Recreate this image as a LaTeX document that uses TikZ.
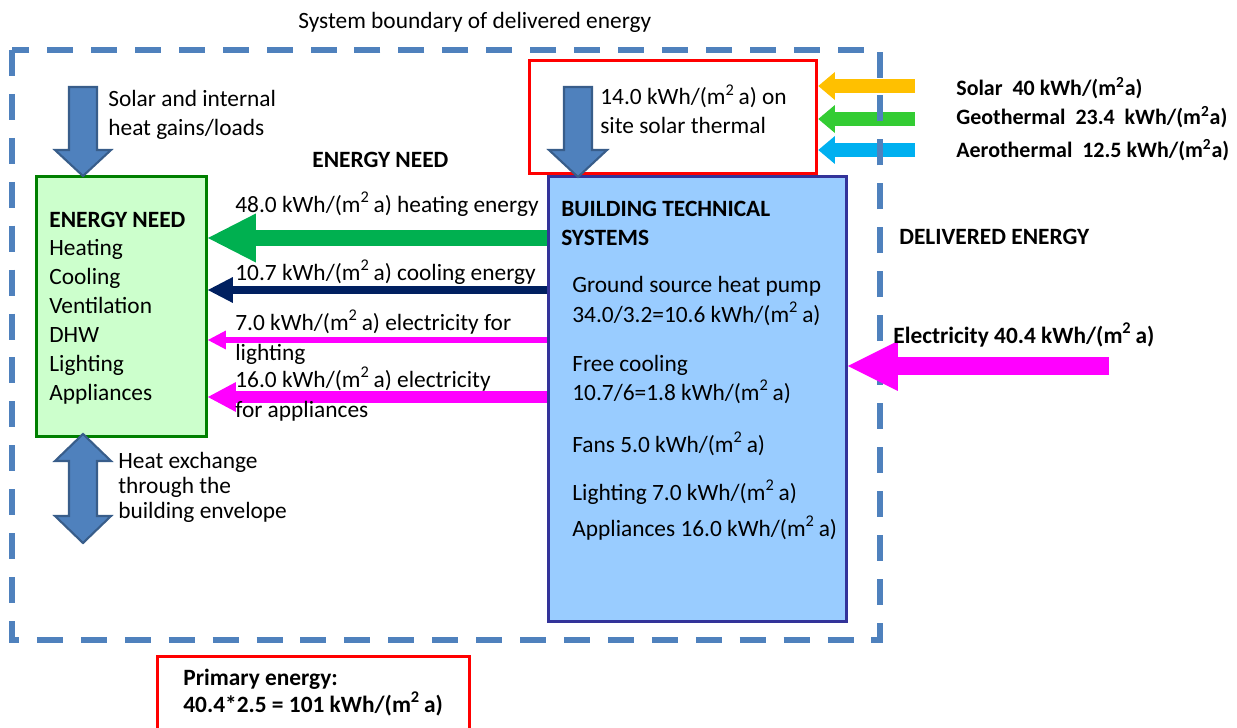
\documentclass[tikz,border=0pt]{standalone}
\usepackage{fontspec}
\setmainfont{Carlito}
\usepackage{xcolor}
\usepackage{tikz}
\usetikzlibrary{arrows.meta}

\definecolor{bndblue}{HTML}{4F81BD}
\definecolor{gainedge}{HTML}{385D8A}
\definecolor{needfill}{HTML}{CCFFCC}
\definecolor{neededge}{HTML}{008000}
\definecolor{btsfill}{HTML}{99CCFF}
\definecolor{btsedge}{HTML}{333399}
\definecolor{heatgreen}{HTML}{00B050}
\definecolor{coolnavy}{HTML}{002060}
\definecolor{elecpink}{HTML}{FF00FF}
\definecolor{solaryellow}{HTML}{FFC000}
\definecolor{geogreen}{HTML}{33CC33}
\definecolor{aerocyan}{HTML}{00B0F0}

\newcommand{\kwh}{kWh/(m\textsuperscript{2}\,a)}

\tikzset{
  txt/.style={anchor=base west, inner sep=0pt, align=left, font=\fontsize{13.3}{16.4}\selectfont},
  boldtxt/.style={txt, font=\fontsize{13.3}{16}\selectfont\bfseries},
  srctxt/.style={txt, font=\fontsize{12.5}{15}\selectfont\bfseries},
  needbox/.style={draw=neededge, fill=needfill, line width=1.7pt, anchor=north west, inner sep=0pt},
  btsbox/.style={draw=btsedge, fill=btsfill, line width=1.7pt, anchor=north west, inner sep=0pt},
  redbox/.style={draw=red, fill=white, line width=1.9pt, anchor=north west, inner sep=0pt},
  boundary/.style={draw=bndblue, line width=3.4pt, dash pattern=on 14.8pt off 10.2pt},
  gainarrow/.style={fill=bndblue, draw=gainedge, line width=1.2pt, line join=miter},
  flow/.style n args={4}{draw=#1, line width=#2, -{Triangle[length=#3, width=#4, line width=0pt]}}
}

\begin{document}
\begin{tikzpicture}[x=0.02cm, y=-0.02cm]
\path[use as bounding box, clip] (0,0) rectangle (1237,727);

% boxes
\node[redbox, minimum width=5.74cm, minimum height=2.26cm] (pv) at (528,59) {};
\node[needbox, minimum width=3.4cm, minimum height=5.2cm] (need) at (35,175) {};
\node[btsbox, minimum width=5.96cm, minimum height=8.9cm] (bts) at (547,175) {};
\node[redbox, minimum width=6.24cm, minimum height=2.4cm] (primary) at (156,655) {};

% renewables coming in from outside
\coordinate (solarsrc) at (915,86);
\coordinate (geosrc) at (915,119);
\coordinate (aerosrc) at (915,150);
\draw[flow={solaryellow}{8.5pt}{9.5pt}{16pt}] (solarsrc) -- (pv.east |- solarsrc);
\draw[flow={geogreen}{8.5pt}{9.5pt}{16pt}] (geosrc) -- (pv.east |- geosrc);
\draw[flow={aerocyan}{8.5pt}{9.5pt}{16pt}] (aerosrc) -- (pv.east |- aerosrc);

% system boundary
\draw[boundary] (12,50) rectangle (880,640);
\node[txt] (title) at (298,28) {System boundary of delivered energy};

% electricity from the grid
\coordinate (gridsrc) at (1109,366);
\draw[flow={elecpink}{10.2pt}{28.4pt}{28.4pt}] (gridsrc) -- (bts.east |- gridsrc);

% flows from the technical systems to the energy need
\draw[flow={heatgreen}{9.1pt}{27.3pt}{27.9pt}] (bts.west |- 0,238) -- (need.east |- 0,238);
\draw[flow={coolnavy}{4pt}{14.2pt}{14.8pt}] (bts.west |- 0,290) -- (need.east |- 0,290);
\draw[flow={elecpink}{3.4pt}{10.2pt}{10.8pt}] (bts.west |- 0,340) -- (need.east |- 0,340);
\draw[flow={elecpink}{6.3pt}{15.9pt}{17pt}] (bts.west |- 0,397) -- (need.east |- 0,397);

% block arrows
\draw[gainarrow] (69,87) -- (97,87) -- (97,150) -- (111,150) -- (83,176) -- (55,150) -- (69,150) -- cycle;
\draw[gainarrow] (564,87) -- (592,87) -- (592,150) -- (607,150) -- (578,177) -- (549,150) -- (564,150) -- cycle;
\draw[gainarrow] (83,434) -- (111,461) -- (97,461) -- (97,516) -- (111,516) -- (83,543)
  -- (55,516) -- (69,516) -- (69,461) -- (55,461) -- cycle;

% labels (multi-line nodes sit on the baseline of their last line)
\node[txt] (gains) at (108,135) {Solar and internal\\heat gains/loads};
\node[boldtxt] (needhdr) at (312,167) {ENERGY NEED};
\node[txt] (pvlbl) at (600,133) {14.0 \kwh{} on\\site solar thermal};
\node[srctxt] (solarlbl) at (956,95) {Solar\ \ 40 kWh/(m\textsuperscript{2}a)};
\node[srctxt] (geolbl) at (956,124) {Geothermal\ \ 23.4\ \ kWh/(m\textsuperscript{2}a)};
\node[srctxt] (aerolbl) at (956,157) {Aerothermal\ \ 12.5 kWh/(m\textsuperscript{2}a)};

\node[boldtxt] (needtitle) at (49,227) {ENERGY NEED};
\node[txt] (needlist) at (49,400)
  {Heating\\Cooling\\Ventilation\\DHW\\Lighting\\Appliances};

\node[txt] (heatlbl) at (235,212) {48.0 \kwh{} heating energy};
\node[txt] (coollbl) at (235,280) {10.7 \kwh{} cooling energy};
\node[txt, font=\fontsize{13.3}{17}\selectfont] (lightlbl) at (235,360) {7.0 \kwh{} electricity for\\lighting};
\node[txt, font=\fontsize{13.3}{17}\selectfont] (appllbl) at (235,417) {16.0 \kwh{} electricity\\for appliances};

\node[boldtxt] (btstitle) at (561,245) {BUILDING TECHNICAL\\SYSTEMS};
\node[txt, font=\fontsize{13.3}{17}\selectfont] (gshp) at (572,322) {Ground source heat pump\\34.0/3.2=10.6 \kwh};
\node[txt] (freecool) at (572,400) {Free cooling\\10.7/6=1.8 \kwh};
\node[txt] (fans) at (572,452) {Fans 5.0 \kwh};
\node[txt] (lighting) at (572,500) {Lighting 7.0 \kwh};
\node[txt] (appliances) at (572,536) {Appliances 16.0 \kwh};

\node[boldtxt] (delivered) at (899,244) {DELIVERED ENERGY};
\node[boldtxt] (gridlbl) at (893,343) {Electricity 40.4 \kwh};

\node[txt, font=\fontsize{13.3}{14.2}\selectfont] (exchange) at (118,518) {Heat exchange\\through the\\building envelope};

\node[boldtxt, font=\fontsize{13.3}{15.3}\selectfont\bfseries] (primlbl) at (183,712) {Primary energy:\\40.4*2.5 = 101 \kwh};
\end{tikzpicture}
\end{document}
